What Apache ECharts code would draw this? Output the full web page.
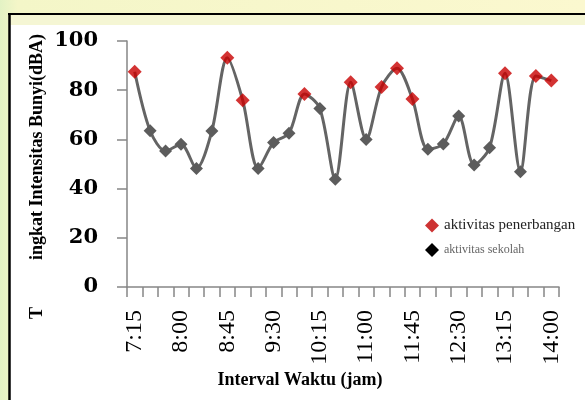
<!DOCTYPE html>
<html>
<head>
<meta charset="utf-8">
<script src="https://cdn.jsdelivr.net/npm/echarts@6/dist/echarts.min.js"></script>
<style>
html,body{margin:0;padding:0;background:#f8f6cc;}
#c{width:585px;height:400px;}
</style>
</head>
<body>
<div id="c"></div>
<script>
var times = ['7:15','7:30','7:45','8:00','8:15','8:30','8:45','9:00','9:15','9:30','9:45','10:00','10:15','10:30','10:45','11:00','11:15','11:30','11:45','12:00','12:15','12:30','12:45','13:00','13:15','13:30','13:45','14:00'];
var levels = [87.5,63.5,55.3,58.0,48.2,63.4,93.2,75.9,48.2,58.7,62.5,78.5,72.6,43.8,83.2,60.0,81.3,88.9,76.4,56.0,58.1,69.5,49.6,56.6,86.9,46.9,85.8,83.9];
var isFlight = [1,0,0,0,0,0,1,1,0,0,0,1,0,0,1,0,1,1,1,0,0,0,0,0,1,0,1,1];
var yTicks = [0,20,40,60,80,100];
var seriesNames = ['aktivitas penerbangan','aktivitas sekolah'];
var yName = 'ingkat Intensitas Bunyi(dBA)';
var yNameFirst = 'T';
var xName = 'Interval Waktu (jam)';

var schoolData = levels.map(function(v,i){
  return {value:v, symbolSize: isFlight[i] ? 0 : 13};
});
var flightData = levels.map(function(v,i){ return isFlight[i] ? v : '-'; });

var chart = echarts.init(document.getElementById('c'));
chart.setOption({
  backgroundColor:'transparent',
  animation:false,
  graphic:[
    {type:'rect', z:-10, silent:true, shape:{x:0,y:0,width:585,height:400},
      style:{fill:new echarts.graphic.LinearGradient(0,0,1,0,[{offset:0,color:'#e3f2c4'},{offset:0.03,color:'#f4f6c8'},{offset:1,color:'#fbf8cf'}])}},
    {type:'rect', z:-9, silent:true, shape:{x:10,y:15,width:575,height:10}, style:{fill:'#f5f6d4'}},
    {type:'rect', z:-9, silent:true, shape:{x:10,y:25,width:575,height:375}, style:{fill:'#ffffff'}},
    {type:'line', z:-8, silent:true, shape:{x1:8,y1:14,x2:585,y2:14}, style:{stroke:'#000',lineWidth:2}},
    {type:'line', z:-8, silent:true, shape:{x1:9.5,y1:13,x2:9.5,y2:400}, style:{stroke:'#000',lineWidth:2.5}},
    {type:'text', left:28, top:30, style:{text:yName, font:'bold 18px "Liberation Serif"', fill:'#000'}, rotation:Math.PI/2, x:28, y:260, left:null, top:null,
      originX:0, originY:0},
    {type:'text', style:{text:yNameFirst, font:'bold 18px "Liberation Serif"', fill:'#000', textAlign:'center', textVerticalAlign:'middle'}, rotation:Math.PI/2, x:37, y:313},
    {type:'text', style:{text:xName, font:'bold 18px "Liberation Serif"', fill:'#000', textAlign:'center', textVerticalAlign:'middle'}, x:300, y:380}
  ],
  legend:[
    {data:[{name:seriesNames[0], icon:'diamond', itemStyle:{color:'#c00000'}}],
      left:420, top:213, itemWidth:14, itemHeight:14, itemGap:4,
      textStyle:{fontFamily:'Liberation Serif', fontSize:15, color:'#222'}},
    {data:[{name:seriesNames[1], icon:'diamond', itemStyle:{color:'#000'}}],
      left:420, top:238, itemWidth:14, itemHeight:14,
      textStyle:{fontFamily:'Liberation Serif', fontSize:12, color:'#666'}}
  ],
  grid:{left:127, right:26, top:41, bottom:113},
  xAxis:{
    type:'category', data:times, boundaryGap:true,
    axisLine:{lineStyle:{color:'#868686', width:1.5}},
    axisTick:{show:true, interval:0, length:10, lineStyle:{color:'#868686', width:1.5}},
    axisLabel:{interval:2, rotate:90, margin:23, fontFamily:'Liberation Serif', fontSize:24, color:'#000'}
  },
  yAxis:{
    type:'value', min:yTicks[0], max:yTicks[yTicks.length-1], interval:yTicks[1]-yTicks[0],
    splitLine:{show:false},
    axisLine:{show:true, lineStyle:{color:'#868686', width:1.5}},
    axisTick:{show:true, length:10, lineStyle:{color:'#868686', width:1.5}},
    axisLabel:{margin:29, fontFamily:'DejaVu Serif', fontWeight:'bold', fontSize:21, color:'#000'}
  },
  series:[
    {name:seriesNames[1], type:'line', data:schoolData, smooth:0.3,
      symbol:'diamond', symbolSize:13, showAllSymbol:true,
      lineStyle:{color:'#646464', width:3},
      itemStyle:{color:'#5c5c5c'}, z:2},
    {name:seriesNames[0], type:'scatter', data:flightData,
      symbol:'diamond', symbolSize:14,
      itemStyle:{color:'#c80000'}, z:3}
  ]
});
</script>
</body>
</html>
